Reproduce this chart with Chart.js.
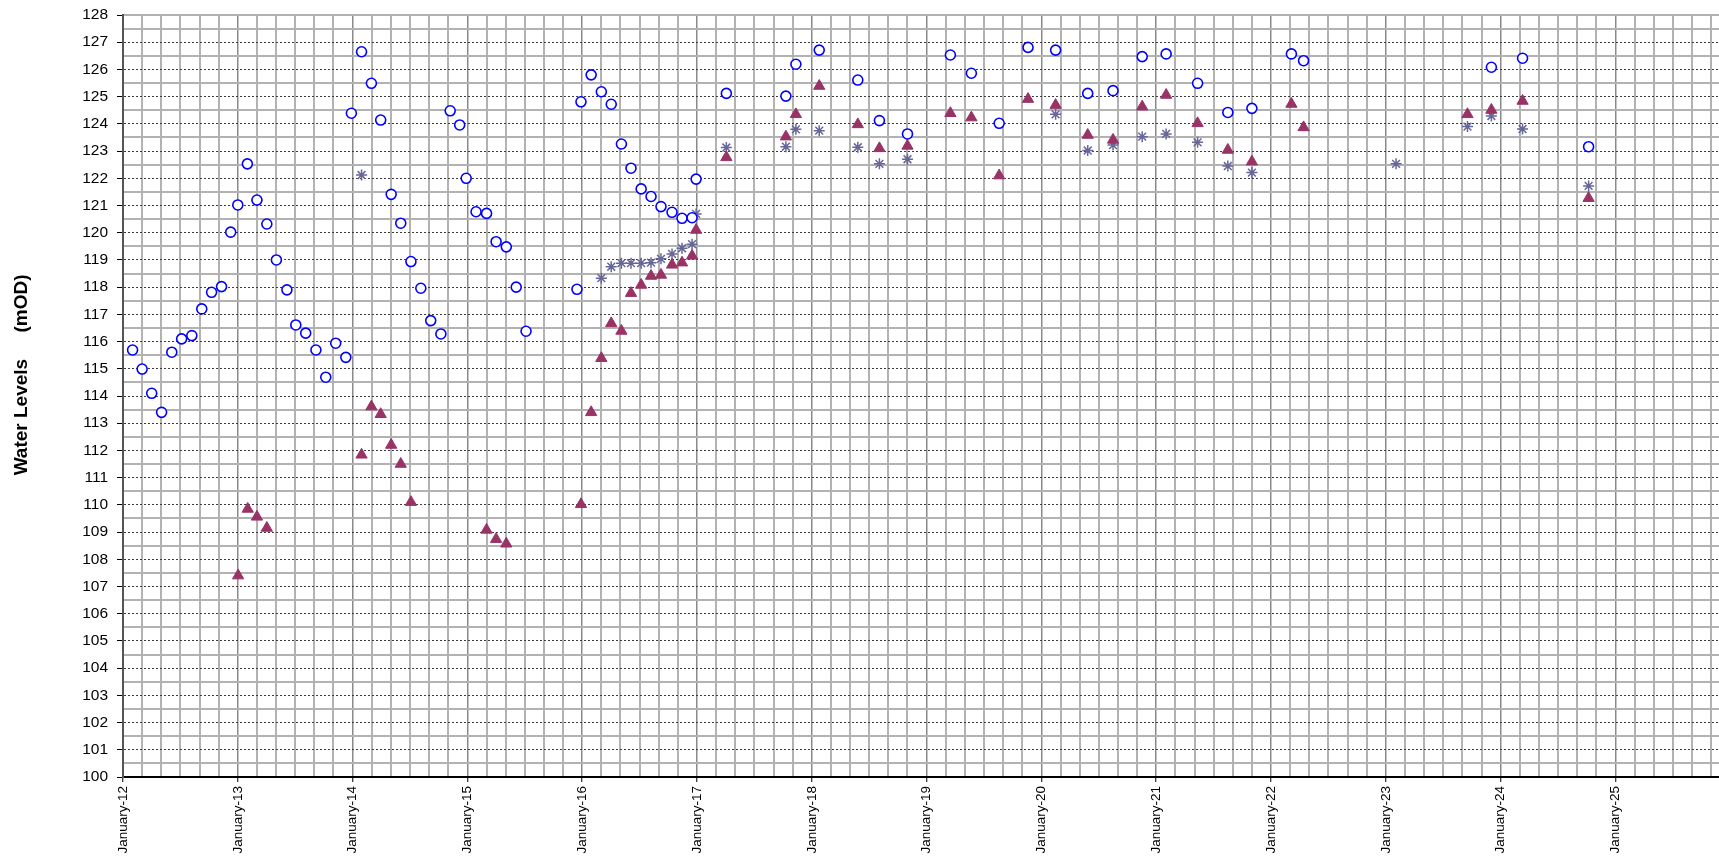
<!DOCTYPE html>
<html>
<head>
<meta charset="utf-8">
<title>Water Levels</title>
<script src="https://cdn.jsdelivr.net/npm/chart.js@4/dist/chart.umd.min.js"></script>
<style>
  html, body { margin: 0; padding: 0; background: #fff; }
  canvas { display: block; }
</style>
</head>
<body>
<canvas id="levels" width="1719" height="860"></canvas>
<script>
// Water level readings (mOD).

// open blue circles
const circleDates = [
  "2012-02-01", "2012-03-01", "2012-04-01", "2012-05-02", "2012-06-04", "2012-07-05",
  "2012-08-07", "2012-09-08", "2012-10-09", "2012-11-10", "2012-12-09", "2013-01-01",
  "2013-02-01", "2013-03-01", "2013-04-02", "2013-05-02", "2013-06-05", "2013-07-03",
  "2013-08-04", "2013-09-06", "2013-10-07", "2013-11-08", "2013-12-10", "2013-12-28",
  "2014-01-30", "2014-02-28", "2014-03-30", "2014-05-02", "2014-06-02", "2014-07-04",
  "2014-08-05", "2014-09-06", "2014-10-08", "2014-11-07", "2014-12-07", "2014-12-28",
  "2015-01-29", "2015-03-01", "2015-04-01", "2015-05-03", "2015-06-04", "2015-07-05",
  "2015-12-15", "2015-12-28", "2016-01-30", "2016-03-01", "2016-04-02", "2016-05-04",
  "2016-06-04", "2016-07-06", "2016-08-07", "2016-09-08", "2016-10-13", "2016-11-14",
  "2016-12-16", "2016-12-29", "2017-04-03", "2017-10-10", "2017-11-11", "2018-01-25",
  "2018-05-26", "2018-08-03", "2018-11-01", "2019-03-16", "2019-05-22", "2019-08-19",
  "2019-11-19", "2020-02-15", "2020-05-27", "2020-08-16", "2020-11-17", "2021-02-02",
  "2021-05-11", "2021-08-16", "2021-11-01", "2022-03-05", "2022-04-13", "2023-12-02",
  "2024-03-10", "2024-10-07"
];
const circleLevels = [
  115.69, 114.99, 114.10, 113.40, 115.61, 116.10,
  116.22, 117.20, 117.81, 118.02, 120.02, 121.02,
  122.53, 121.20, 120.32, 119.00, 117.90, 116.61,
  116.31, 115.69, 114.69, 115.94, 115.42, 124.39,
  126.65, 125.49, 124.14, 121.41, 120.35, 118.94,
  117.96, 116.77, 116.28, 124.48, 123.96, 122.00,
  120.77, 120.71, 119.67, 119.48, 118.00, 116.38,
  117.92, 124.81, 125.80, 125.18, 124.72, 123.26,
  122.37, 121.61, 121.33, 120.96, 120.75, 120.53,
  120.55, 121.97, 125.12, 125.02, 126.19, 126.71,
  125.61, 124.12, 123.63, 126.53, 125.86, 124.02,
  126.81, 126.71, 125.12, 125.22, 126.47, 126.57,
  125.49, 124.42, 124.57, 126.57, 126.32, 126.08,
  126.41, 123.16
];

// filled maroon triangles
const triangleDates = [
  "2013-01-02", "2013-02-02", "2013-03-01", "2013-04-02", "2014-01-30", "2014-02-28",
  "2014-03-30", "2014-05-02", "2014-06-02", "2014-07-04", "2015-03-01", "2015-04-01",
  "2015-05-03", "2015-12-28", "2016-01-30", "2016-03-01", "2016-04-02", "2016-05-04",
  "2016-06-04", "2016-07-06", "2016-08-07", "2016-09-08", "2016-10-13", "2016-11-14",
  "2016-12-16", "2016-12-29", "2017-04-03", "2017-10-10", "2017-11-11", "2018-01-25",
  "2018-05-26", "2018-08-03", "2018-11-01", "2019-03-16", "2019-05-22", "2019-08-19",
  "2019-11-19", "2020-02-15", "2020-05-27", "2020-08-16", "2020-11-17", "2021-02-02",
  "2021-05-11", "2021-08-16", "2021-11-01", "2022-03-05", "2022-04-13", "2023-09-17",
  "2023-12-02", "2024-03-10", "2024-10-07"
];
const triangleLevels = [
  107.40, 109.85, 109.56, 109.15, 111.84, 113.61,
  113.33, 112.20, 111.50, 110.10, 109.08, 108.74,
  108.57, 110.02, 113.40, 115.39, 116.67, 116.39,
  117.78, 118.08, 118.41, 118.45, 118.82, 118.90,
  119.15, 120.10, 122.77, 123.53, 124.35, 125.39,
  123.98, 123.10, 123.19, 124.39, 124.23, 122.10,
  124.91, 124.69, 123.59, 123.41, 124.63, 125.06,
  124.02, 123.04, 122.61, 124.73, 123.87, 124.35,
  124.51, 124.84, 121.27
];

// grey-blue asterisks
const starDates = [
  "2014-01-30", "2016-03-01", "2016-04-02", "2016-05-04", "2016-06-04", "2016-07-06",
  "2016-08-07", "2016-09-08", "2016-10-13", "2016-11-14", "2016-12-16", "2016-12-29",
  "2017-04-03", "2017-10-10", "2017-11-11", "2018-01-25", "2018-05-26", "2018-08-03",
  "2018-11-01", "2020-02-15", "2020-05-27", "2020-08-16", "2020-11-17", "2021-02-02",
  "2021-05-11", "2021-08-16", "2021-11-01", "2023-02-03", "2023-09-17", "2023-12-02",
  "2024-03-10", "2024-10-07"
];
const starLevels = [
  122.12, 118.33, 118.75, 118.88, 118.88, 118.88,
  118.90, 119.04, 119.22, 119.43, 119.58, 120.69,
  123.13, 123.16, 123.80, 123.75, 123.14, 122.53,
  122.70, 124.35, 123.02, 123.22, 123.53, 123.63,
  123.32, 122.45, 122.21, 122.53, 123.90, 124.29,
  123.81, 121.72
];

// axis range
const yearStart = 2012;
const yearEnd = 2025.902;
const levelMin = 100;
const levelMax = 128;
const yTitle = "Water Levels     (mOD)";

// date string -> fractional year so the linear x scale can place it
function toYear(dateStr) {
  const [y, m, d] = dateStr.split("-").map(Number);
  const daysInMonth = new Date(Date.UTC(y, m, 0)).getUTCDate();
  return y + (m - 1 + (d - 1) / daysInMonth) / 12;
}

function toPoints(dates, levels) {
  return dates.map((d, i) => ({ x: toYear(d), y: levels[i] }));
}

const isWhole = (v) => Math.abs(v - Math.round(v)) < 1e-6;
const font = "'Liberation Sans', Arial, Helvetica, sans-serif";

const ctx = document.getElementById("levels").getContext("2d");

new Chart(ctx, {
  type: "scatter",
  data: {
    datasets: [
      {
        label: "Circles",
        data: toPoints(circleDates, circleLevels),
        pointStyle: "circle",
        pointRadius: 5,
        borderWidth: 1.6,
        borderColor: "#0000ff",
        backgroundColor: "#ffffff",
      },
      {
        label: "Triangles",
        data: toPoints(triangleDates, triangleLevels),
        pointStyle: "triangle",
        pointRadius: 6.5,
        borderWidth: 1,
        borderColor: "#993366",
        backgroundColor: "#993366",
      },
      {
        label: "Stars",
        data: toPoints(starDates, starLevels),
        pointStyle: "star",
        pointRadius: 5.5,
        borderWidth: 1.5,
        borderColor: "#666699",
        backgroundColor: "#666699",
      },
    ],
  },
  options: {
    responsive: false,
    animation: false,
    events: [],
    layout: {
      autoPadding: false, // plot area runs right up to the canvas edge
      padding: { left: 10, top: 15, right: 0, bottom: 0 },
    },
    plugins: {
      legend: { display: false },
      tooltip: { enabled: false },
    },
    scales: {
      x: {
        type: "linear",
        min: yearStart,
        max: yearEnd,
        // one grid line every two months
        afterBuildTicks: (scale) => {
          const ticks = [];
          for (let k = 0; yearStart + k / 6 <= yearEnd; k++) {
            ticks.push({ value: yearStart + k / 6 });
          }
          scale.ticks = ticks;
        },
        afterFit: (scale) => {
          scale.height = 83;
          scale.paddingLeft = 0;
          scale.paddingRight = 0;
        },
        ticks: {
          autoSkip: false,
          minRotation: 90,
          maxRotation: 90,
          padding: 4,
          color: "#000",
          font: { family: font, size: 13.5 },
          callback: (value) =>
            isWhole(value) ? "January-" + String(Math.round(value)).slice(2) : "",
        },
        grid: {
          z: -2,
          color: (c) => (isWhole(c.tick.value) ? "#8a8a8a" : "#b2b2b2"),
          lineWidth: (c) => (isWhole(c.tick.value) ? 1.5 : 2),
          tickLength: 5,
          tickWidth: 1,
          tickColor: (c) => (isWhole(c.tick.value) ? "#000" : "rgba(0,0,0,0)"),
        },
        border: { color: "#000", width: 2 },
      },
      y: {
        type: "linear",
        position: "left",
        min: levelMin,
        max: levelMax,
        afterFit: (scale) => {
          scale.width = 113;
          scale.paddingTop = 0;
          scale.paddingBottom = 0;
        },
        ticks: {
          stepSize: 1,
          padding: 9,
          color: "#000",
          font: { family: font, size: 15.5 },
        },
        title: {
          display: true,
          text: "        " + yTitle,
          color: "#000",
          font: { family: font, size: 19, weight: "bold" },
          padding: { top: 0, bottom: 0 },
        },
        grid: {
          z: -1,
          color: (c) => (c.tick.value === levelMax ? "rgba(0,0,0,0)" : "#3c3c3c"),
          lineWidth: 1,
          tickLength: 6,
          tickColor: "#000",
        },
        border: { color: "#555", width: 2, dash: [2, 2] },
      },
      // half-metre lines, drawn solid grey under the dotted ones
      yMinor: {
        type: "linear",
        position: "left",
        min: levelMin,
        max: levelMax,
        afterFit: (scale) => {
          scale.width = 0;
        },
        ticks: { stepSize: 0.5, display: false },
        grid: {
          z: -2,
          drawTicks: false,
          color: (c) =>
            isWhole(c.tick.value) && c.tick.value !== levelMax ? "rgba(0,0,0,0)" : "#b2b2b2",
          lineWidth: 2,
        },
        border: { display: false },
      },
    },
  },
});
</script>
</body>
</html>
